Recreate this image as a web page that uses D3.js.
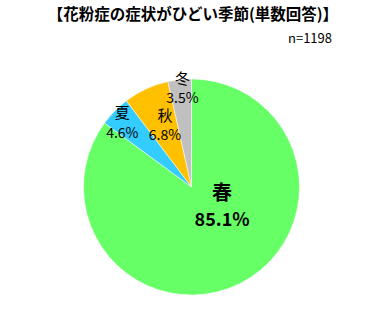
<!DOCTYPE html>
<html>
<head>
<meta charset="utf-8">
<script src="https://cdn.jsdelivr.net/npm/d3@7"></script>
<style>
  body { margin: 0; background: #fff; }
  text { font-family: "Noto Sans CJK JP", sans-serif; fill: #000; }
</style>
</head>
<body>
<script>
// data
var seasons = ["春", "夏", "秋", "冬"];
var shares = [85.1, 4.6, 6.8, 3.5];
var colors = ["#66ff66", "#33ccff", "#ffc000", "#c0c0c0"];
var titleText = "【花粉症の症状がひどい季節(単数回答)】";
var nText = "n=1198";

var width = 384, height = 325;
var cx = 191.5, cy = 187, radius = 108;

var svg = d3.select("body").append("svg")
  .attr("width", width)
  .attr("height", height);

svg.append("text")
  .attr("x", 193).attr("y", 20)
  .attr("text-anchor", "middle")
  .style("font-size", "15.5px")
  .style("font-weight", "bold")
  .text(titleText);

svg.append("text")
  .attr("x", 332).attr("y", 43)
  .attr("text-anchor", "end")
  .style("font-size", "13px")
  .text(nText);

var pie = d3.pie().sort(null).value(function (d) { return d; });
var arcs = pie(shares);
var arc = d3.arc().innerRadius(0).outerRadius(radius);

var g = svg.append("g").attr("transform", "translate(" + cx + "," + cy + ")");

g.selectAll("path").data(arcs).enter().append("path")
  .attr("d", arc)
  .style("fill", function (d, i) { return colors[i]; })
  .style("stroke", "#fff")
  .style("stroke-width", 0.5);

// where each label sits: fraction of the radius plus a small nudge
var labelR = [0.3, 0.9, 0.65, 0.93];
var nudge = [[16, -11], [0, 3], [3, 1], [2, 0]];

var labels = g.selectAll(".lbl").data(arcs).enter().append("g")
  .attr("class", "lbl")
  .attr("transform", function (d, i) {
    var a = d3.arc().innerRadius(radius * labelR[i]).outerRadius(radius * labelR[i]);
    var p = a.centroid(d);
    return "translate(" + (p[0] + nudge[i][0]) + "," + (p[1] + nudge[i][1]) + ")";
  });

labels.append("text")
  .attr("text-anchor", "middle")
  .attr("dominant-baseline", "central")
  .attr("y", function (d, i) { return i === 0 ? -13 : -10; })
  .style("font-size", function (d, i) { return i === 0 ? "20px" : "15px"; })
  .style("font-weight", function (d, i) { return i === 0 ? "bold" : "normal"; })
  .text(function (d, i) { return seasons[i]; });

labels.append("text")
  .attr("text-anchor", "middle")
  .attr("dominant-baseline", "central")
  .attr("y", function (d, i) { return i === 0 ? 13 : 10; })
  .style("font-size", function (d, i) { return i === 0 ? "18px" : "14px"; })
  .style("font-weight", function (d, i) { return i === 0 ? "bold" : "normal"; })
  .text(function (d, i) { return shares[i].toFixed(1) + "%"; });
</script>
</body>
</html>
